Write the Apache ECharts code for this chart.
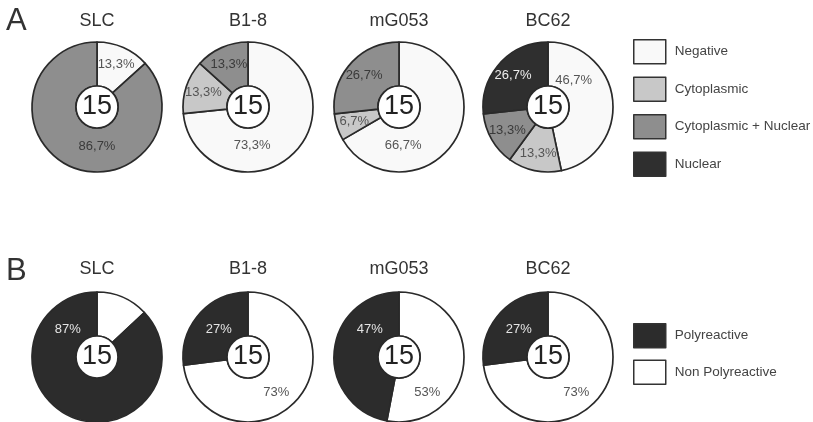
<!DOCTYPE html>
<html>
<head>
<meta charset="utf-8">
<script src="https://cdn.jsdelivr.net/npm/echarts@6/dist/echarts.min.js"></script>
<style>
  html, body { margin: 0; padding: 0; background: #ffffff; }
  #chart { width: 813px; height: 422px; }
</style>
</head>
<body>
<div id="chart"></div>
<script>
// Antibody groups, each with 15 clones tested
const groups = ['SLC', 'B1-8', 'mG053', 'BC62'];
const totals = [15, 15, 15, 15];

// Panel A: staining pattern (% of clones)
const patternNames = ['Negative', 'Cytoplasmic', 'Cytoplasmic + Nuclear', 'Nuclear'];
const negative     = [13.3, 73.3, 66.7, 46.7];
const cytoplasmic  = [0, 13.3, 6.7, 13.3];
const cytoNuclear  = [86.7, 13.3, 26.7, 13.3];
const nuclear      = [0, 0, 0, 26.7];

// Panel B: polyreactivity (% of clones)
const reactNames      = ['Polyreactive', 'Non Polyreactive'];
const polyreactive    = [87, 27, 47, 27];
const nonPolyreactive = [13, 73, 53, 73];

const panelLetters = ['A', 'B'];

// ---- layout & style ----
const FONT = '"Liberation Sans", Arial, Helvetica, sans-serif';
const colX = [97, 248, 399, 548];
const rowY = [107, 357];
const titleTop = [12, 260];
const letterTop = [6, 256];
const R_OUT = 65, R_IN = 21;

const fills = {
  'Negative': '#f9f9f9',
  'Cytoplasmic': '#c8c8c8',
  'Cytoplasmic + Nuclear': '#8e8e8e',
  'Nuclear': '#2f2f2f',
  'Polyreactive': '#2c2c2c',
  'Non Polyreactive': '#ffffff'
};
const inks = {
  'Negative': '#555555',
  'Cytoplasmic': '#555555',
  'Cytoplasmic + Nuclear': '#3a3a3a',
  'Nuclear': '#eeeeee',
  'Polyreactive': '#e4e4e4',
  'Non Polyreactive': '#555555'
};

// label anchor [angle clockwise from 12 o'clock, distance from centre]; null = middle of slice
const spotsA = [
  [null, null, [180, 39], null],
  [[174, 39], null, null, null],
  [[174, 39], null, null, null],
  [[44, 37], null, null, null]
];
const spotB = [[141, 45], [313, 40]];      // [non polyreactive, polyreactive]
const hiddenB = [[true, false], [false, false], [false, false], [false, false]];

const fmtA = p => p.value.toFixed(1).replace('.', ',') + '%';
const fmtB = p => p.value + '%';

function donut(cx, cy, names, values, spots, fmt, hidden) {
  const total = values.reduce((a, b) => a + b, 0);
  let acc = 0;
  const data = [], anchors = [];
  names.forEach((nm, i) => {
    const v = values[i];
    if (!v) return;
    const mid = (acc + v / 2) / total * 360;
    acc += v;
    const sp = spots[i] || [mid, 47];
    const a = sp[0] * Math.PI / 180;
    anchors.push([cx + sp[1] * Math.sin(a), cy - sp[1] * Math.cos(a)]);
    data.push({
      name: nm, value: v,
      itemStyle: { color: fills[nm] },
      label: { show: !(hidden && hidden[i]), color: inks[nm] }
    });
  });
  return {
    type: 'pie', center: [cx, cy], radius: [R_IN, R_OUT],
    startAngle: 90, clockwise: true, silent: true,
    emphasis: { disabled: true },
    data: data,
    itemStyle: { borderColor: '#2a2a2a', borderWidth: 1.7 },
    label: { position: 'inside', formatter: fmt, fontSize: 13, fontFamily: FONT },
    labelLine: { show: false },
    labelLayout: p => ({
      x: anchors[p.dataIndex][0], y: anchors[p.dataIndex][1],
      align: 'center', verticalAlign: 'middle'
    })
  };
}

function hub(cx, cy, n) {
  return {
    type: 'pie', center: [cx, cy], radius: [0, R_IN], silent: true,
    emphasis: { disabled: true },
    data: [{ name: 'n', value: n }],
    itemStyle: { color: '#ffffff', borderColor: '#2a2a2a', borderWidth: 1.7 },
    label: { position: 'center', formatter: '{c}', fontSize: 27, color: '#222222', fontFamily: FONT },
    labelLine: { show: false }
  };
}

const series = [];
const titles = [];
groups.forEach((g, i) => {
  const valsA = [negative[i], cytoplasmic[i], cytoNuclear[i], nuclear[i]];
  series.push(donut(colX[i], rowY[0], patternNames, valsA, spotsA[i], fmtA));
  series.push(hub(colX[i], rowY[0], totals[i]));

  // clockwise from 12 o'clock: non polyreactive first, then polyreactive
  const valsB = [nonPolyreactive[i], polyreactive[i]];
  series.push(donut(colX[i], rowY[1], [reactNames[1], reactNames[0]], valsB, spotB, fmtB, hiddenB[i]));
  series.push(hub(colX[i], rowY[1], totals[i]));

  [0, 1].forEach(r => titles.push({
    text: g, left: colX[i], top: titleTop[r], textAlign: 'center', padding: 0,
    textStyle: { fontSize: 18, fontWeight: 'normal', color: '#333333', fontFamily: FONT }
  }));
});
panelLetters.forEach((L, r) => titles.push({
  text: L, left: 6, top: letterTop[r], padding: 0,
  textStyle: { fontSize: 31, fontWeight: 'normal', color: '#333333', fontFamily: FONT }
}));

const legendBase = {
  orient: 'vertical', left: 633, icon: 'rect', selectedMode: false, padding: 0,
  itemWidth: 32, itemHeight: 24,
  itemStyle: { borderColor: '#333333', borderWidth: 1.5 },
  textStyle: { fontSize: 13.5, color: '#444444', fontFamily: FONT, padding: [0, 0, 0, 4] }
};

const chart = echarts.init(document.getElementById('chart'), null, { renderer: 'canvas' });
chart.setOption({
  animation: false,
  backgroundColor: '#ffffff',
  title: titles,
  legend: [
    Object.assign({}, legendBase, { top: 39, itemGap: 12, data: patternNames }),
    Object.assign({}, legendBase, { top: 323, itemGap: 11, data: reactNames })
  ],
  series: series
});
</script>
</body>
</html>
